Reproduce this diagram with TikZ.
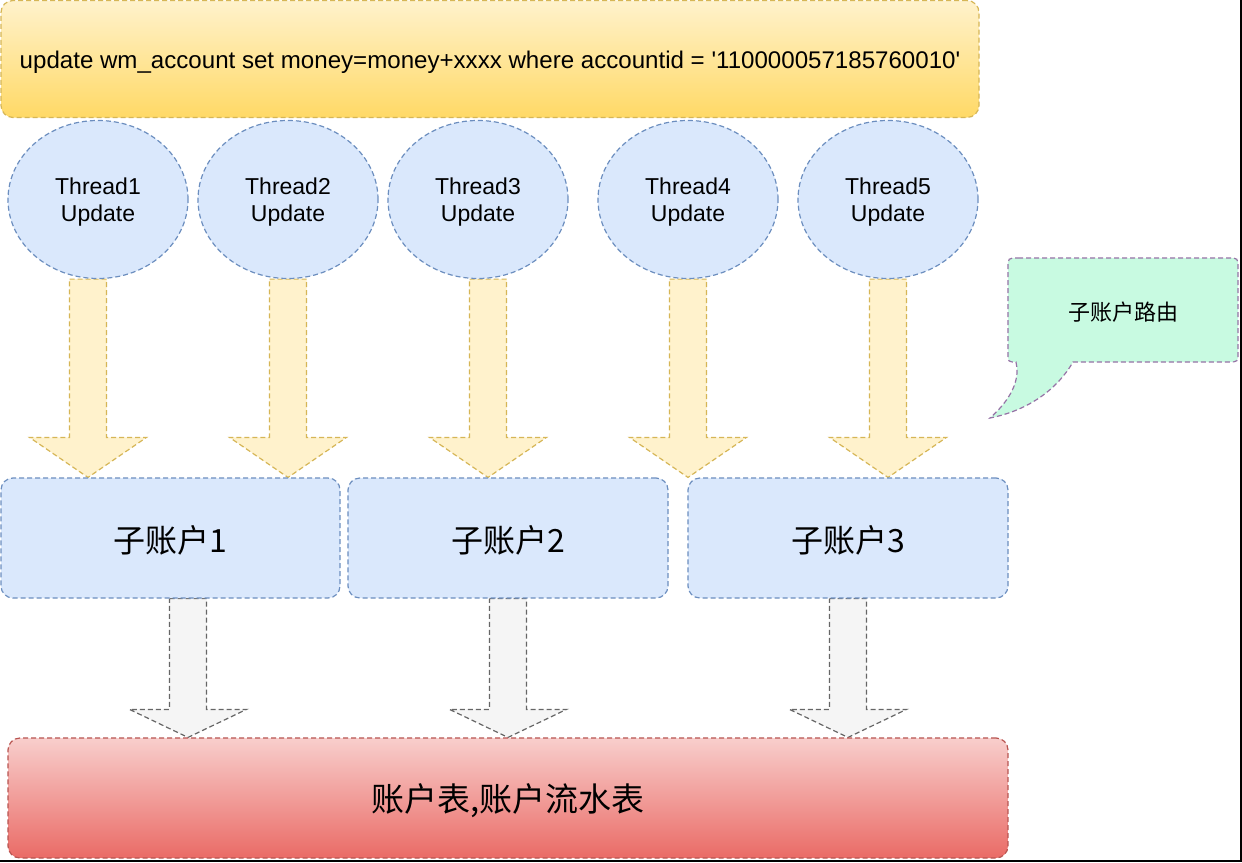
\documentclass[tikz,border=0pt]{standalone}
\usepackage{fontspec}
\setmainfont{Liberation Sans}
\newfontfamily\sqlfont{Liberation Sans}[Ligatures=ResetAll]
\newfontfamily\cjk{Noto Sans CJK SC}
\usetikzlibrary{shapes.geometric,calc,backgrounds}
\definecolor{ylwA}{HTML}{FFF2CC}
\definecolor{ylwB}{HTML}{FFD966}
\definecolor{ylwD}{HTML}{D6B656}
\definecolor{bluF}{HTML}{DAE8FC}
\definecolor{bluD}{HTML}{6C8EBF}
\definecolor{gryF}{HTML}{F5F5F5}
\definecolor{gryD}{HTML}{666666}
\definecolor{redA}{HTML}{F8CECC}
\definecolor{redB}{HTML}{EA6B66}
\definecolor{redD}{HTML}{B85450}
\definecolor{mntF}{RGB}{200,250,225}
\definecolor{prpD}{HTML}{9673A6}
\newcommand\blockarr[4]{%
  \draw[#1] let \p1=#2, \p2=#3 in
    (\x1-18.5pt,\y1) -- (\x1+18.5pt,\y1) -- (\x1+18.5pt,\y2+#4) --
    (\x1+58.5pt,\y2+#4) -- (\x1,\y2) -- (\x1-58.5pt,\y2+#4) --
    (\x1-18.5pt,\y2+#4) -- cycle;}
\newcommand\dn[2][3pt]{\raisebox{-#1}[\height][\depth]{#2}}
\newcommand\twoln[2]{\raisebox{-3pt}[\height][\depth]{\begin{tabular}{@{}c@{}}#1\\#2\end{tabular}}}
\begin{document}
\begin{tikzpicture}[x=1pt,y=-1pt,
  dsh/.style={dash pattern=on 5pt off 3pt, line width=1.2pt},
  sqlbox/.style={rectangle, draw=ylwD, dsh, rounded corners=12pt, top color=ylwA, bottom color=ylwB,
    minimum width=978pt, minimum height=117pt, inner sep=0pt, font=\sqlfont\fontsize{24.1}{28}\selectfont},
  thread/.style={ellipse, draw=bluD, dsh, fill=bluF, minimum width=180pt, minimum height=158pt,
    inner sep=0pt, align=center, font=\fontsize{23}{27}\selectfont},
  subbox/.style={rectangle, rounded corners=12pt, draw=bluD, dsh, fill=bluF, minimum height=120pt,
    inner sep=0pt, font=\cjk\fontsize{32}{38}\selectfont},
  tblbox/.style={rectangle, rounded corners=12pt, draw=redD, dsh, top color=redA, bottom color=redB,
    minimum width=1000pt, minimum height=120pt, inner sep=0pt, font=\cjk\fontsize{33}{40}\selectfont},
  yarrow/.style={draw=ylwD, dsh, fill=ylwA, line join=miter},
  garrow/.style={draw=gryD, dsh, fill=gryF, line join=miter},
  callout/.style={draw=prpD, dsh, fill=mntF},
  calltext/.style={inner sep=0pt, font=\cjk\fontsize{22}{26}\selectfont}
]
\useasboundingbox (0,0) rectangle (1242,862);

\node[sqlbox] (sql) at (490,59) {\dn{update wm\_account set money=money+xxxx where accountid = '110000057185760010'}};

\node[thread] (t1) at (98,199.5) {\twoln{Thread1}{Update}};
\node[thread] (t2) at (288,199.5) {\twoln{Thread2}{Update}};
\node[thread] (t3) at (478,199.5) {\twoln{Thread3}{Update}};
\node[thread] (t4) at (688,199.5) {\twoln{Thread4}{Update}};
\node[thread] (t5) at (888,199.5) {\twoln{Thread5}{Update}};

\node[subbox, minimum width=339pt] (s1) at (170.5,538) {\dn[2pt]{子账户1}};
\node[subbox, minimum width=320pt] (s2) at (508,538) {\dn[2pt]{子账户2}};
\node[subbox, minimum width=320pt] (s3) at (848,538) {\dn[2pt]{子账户3}};

\node[tblbox] (tbl) at (508,798) {\dn[3pt]{账户表,账户流水表}};

\coordinate (a1) at ($(t1.south)+(-10,0)$);
\coordinate (a2) at (t2.south);
\coordinate (a3) at ($(t3.south)+(10,0)$);
\coordinate (a4) at (t4.south);
\coordinate (a5) at (t5.south);
\coordinate (g1) at ($(s1.south)+(17.5,0)$);
\coordinate (g2) at (s2.south);
\coordinate (g3) at (s3.south);

\begin{pgfonlayer}{background}
\fill[white] (0,0) rectangle (1242,862);
\blockarr{yarrow}{(a1)}{(a1 |- s1.north)}{40pt}
\blockarr{yarrow}{(a2)}{(a2 |- s1.north)}{40pt}
\blockarr{yarrow}{(a3)}{(a3 |- s2.north)}{40pt}
\blockarr{yarrow}{(a4)}{(a4 |- s3.north)}{40pt}
\blockarr{yarrow}{(a5)}{(a5 |- s3.north)}{40pt}
\blockarr{garrow}{(g1)}{(g1 |- tbl.north)}{28pt}
\blockarr{garrow}{(g2)}{(g2 |- tbl.north)}{28pt}
\blockarr{garrow}{(g3)}{(g3 |- tbl.north)}{28pt}
\end{pgfonlayer}

% callout
\draw[callout] (1018,258) -- (1228,258) .. controls (1238,258) .. (1238,268) -- (1238,352)
  .. controls (1238,362) .. (1228,362) -- (1073,362)
  .. controls (1058,388) and (1030,410) .. (990,418)
  .. controls (1008,402) and (1018,385) .. (1017,368) -- (1016,362)
  .. controls (1008,362) .. (1008,352) -- (1008,268) .. controls (1008,258) .. (1018,258) -- cycle;
\node[calltext] (route) at (1123,312) {子账户路由};

% screenshot frame
\fill[black] (1239.5,0) rectangle (1242,862);
\fill[black] (0,859.5) rectangle (1242,862);
\end{tikzpicture}
\end{document}
